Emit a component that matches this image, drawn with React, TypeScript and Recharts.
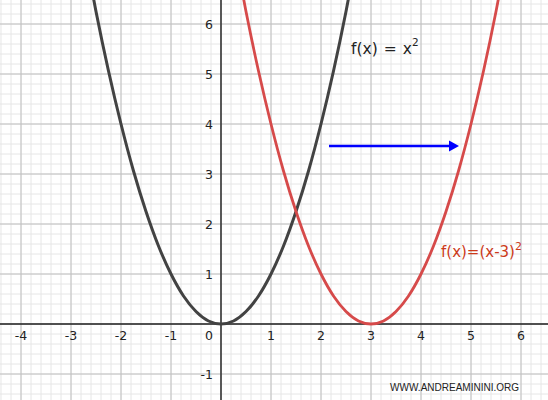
import React from "react";
import {
  ComposedChart, Line, XAxis, YAxis, CartesianGrid, ReferenceLine, ReferenceDot,
} from "recharts";

// y = x^2
const squareX = [-2.75, -2.5, -2.25, -2, -1.75, -1.5, -1.25, -1, -0.75, -0.5, -0.25, 0,
  0.25, 0.5, 0.75, 1, 1.25, 1.5, 1.75, 2, 2.25, 2.5, 2.75];
const squareY = [7.56, 6.25, 5.06, 4, 3.06, 2.25, 1.56, 1, 0.56, 0.25, 0.06, 0,
  0.06, 0.25, 0.56, 1, 1.56, 2.25, 3.06, 4, 5.06, 6.25, 7.56];

// y = (x-3)^2, the red curve
const shiftedX = [0.25, 0.5, 0.75, 1, 1.25, 1.5, 1.75, 2, 2.25, 2.5, 2.75, 3,
  3.25, 3.5, 3.75, 4, 4.25, 4.5, 4.75, 5, 5.25, 5.5, 5.75];
const shiftedY = [7.56, 6.25, 5.06, 4, 3.06, 2.25, 1.56, 1, 0.56, 0.25, 0.06, 0,
  0.06, 0.25, 0.56, 1, 1.56, 2.25, 3.06, 4, 5.06, 6.25, 7.56];

const xTicks = [-4, -3, -2, -1, 0, 1, 2, 3, 4, 5, 6];
const yTicks = [-1, 1, 2, 3, 4, 5, 6];

const X_DOMAIN: [number, number] = [-4.42, 6.54];
const Y_DOMAIN: [number, number] = [-1.52, 6.48];

const arrowFrom = { x: 2.16, y: 3.56 };
const arrowTo = { x: 4.76, y: 3.56 };

function gridValues(from: number, to: number, step: number) {
  const out: number[] = [];
  for (let i = Math.round(from / step); i * step <= to + 1e-9; i++) out.push(+(i * step).toFixed(4));
  return out;
}
const minorX = gridValues(-4.4, 6.4, 0.2);
const minorY = gridValues(-1.4, 6.4, 0.2);
const majorX = gridValues(-4, 6, 1);
const majorY = gridValues(-1, 6, 1);

const squareData = squareX.map((x, i) => ({ x, y: squareY[i] }));
const shiftedData = shiftedX.map((x, i) => ({ x, y: shiftedY[i] }));

const FONT = "'DejaVu Sans', sans-serif";

// grid positions: use the axis scale when recharts hands one over, else map through the plot box
function xPositions(values: number[]) {
  return ({ xAxis, offset }: any) => {
    const s = xAxis?.scale;
    if (typeof s === "function") return values.map(v => s(v));
    const [d0, d1] = X_DOMAIN;
    return values.map(v => offset.left + ((v - d0) / (d1 - d0)) * offset.width);
  };
}
function yPositions(values: number[]) {
  return ({ yAxis, offset }: any) => {
    const s = yAxis?.scale;
    if (typeof s === "function") return values.map(v => s(v));
    const [d0, d1] = Y_DOMAIN;
    return values.map(v => offset.top + ((d1 - v) / (d1 - d0)) * offset.height);
  };
}

function Arrow(props: any) {
  const { x1, y1, x2, y2 } = props;
  return (
    <g>
      <line x1={x1} y1={y1} x2={x2 - 8} y2={y2} stroke="#0000ff" strokeWidth={2.5} />
      <polygon points={`${x2},${y2} ${x2 - 10},${y2 - 5.5} ${x2 - 10},${y2 + 5.5}`} fill="#0000ff" />
    </g>
  );
}

export default function App() {
  return (
    <div style={{ position: "fixed", left: 0, top: 0, width: 548, height: 400, background: "#fff" }}>
      <ComposedChart width={548} height={400} margin={{ top: 0, right: 0, bottom: 0, left: 0 }}>
        <XAxis type="number" dataKey="x" domain={X_DOMAIN} allowDataOverflow hide />
        <YAxis type="number" dataKey="y" domain={Y_DOMAIN} allowDataOverflow hide />
        <CartesianGrid
          stroke="#e6e6e6"
          strokeWidth={1}
          verticalCoordinatesGenerator={xPositions(minorX)}
          horizontalCoordinatesGenerator={yPositions(minorY)}
        />
        <CartesianGrid
          stroke="#c0c0c0"
          strokeWidth={1}
          fill="none"
          verticalCoordinatesGenerator={xPositions(majorX)}
          horizontalCoordinatesGenerator={yPositions(majorY)}
        />
        <ReferenceLine x={0} stroke="#222" strokeWidth={1.4} />
        <ReferenceLine y={0} stroke="#222" strokeWidth={1.4} />

        <Line data={squareData} dataKey="y" type="natural" stroke="#424242" strokeWidth={3}
          dot={false} activeDot={false} isAnimationActive={false} />
        <Line data={shiftedData} dataKey="y" type="natural" stroke="#d64a4a" strokeWidth={2.8}
          dot={false} activeDot={false} isAnimationActive={false} />

        <ReferenceLine segment={[arrowFrom, arrowTo]} shape={<Arrow />} />

        {xTicks.map(t => (
          <ReferenceDot key={`xt${t}`} x={t} y={0} r={0}
            shape={(p: any) => (
              <text x={p.cx + (t === 0 ? -12 : 0)} y={p.cy + 16} textAnchor="middle"
                fontFamily={FONT} fontSize={12.5} fill="#222">{String(t)}</text>
            )} />
        ))}
        {yTicks.map(t => (
          <ReferenceDot key={`yt${t}`} x={0} y={t} r={0}
            shape={(p: any) => (
              <text x={p.cx - 8} y={p.cy + 4.5} textAnchor="end"
                fontFamily={FONT} fontSize={12.5} fill="#222">{String(t)}</text>
            )} />
        ))}

        <ReferenceDot x={2.6} y={5.4} r={0}
          shape={(p: any) => (
            <text x={p.cx} y={p.cy} fontFamily={FONT} fontSize={15.5} fill="#222">
              f(x)<tspan dx={6}>=</tspan><tspan dx={6}>x</tspan>
              <tspan dy={-8} fontSize={10.5}>2</tspan>
            </text>
          )} />
        <ReferenceDot x={4.4} y={1.34} r={0}
          shape={(p: any) => (
            <text x={p.cx} y={p.cy} fontFamily={FONT} fontSize={15} fill="#cc3a1a">
              f(x)=(x-3)<tspan dy={-7} fontSize={11}>2</tspan>
            </text>
          )} />
        <ReferenceDot x={5.96} y={-1.33} r={0}
          shape={(p: any) => (
            <text x={p.cx} y={p.cy} textAnchor="end" fontFamily="'Liberation Sans', Arial, sans-serif"
              fontSize={10} fill="#222">WWW.ANDREAMININI.ORG</text>
          )} />
      </ComposedChart>
    </div>
  );
}
